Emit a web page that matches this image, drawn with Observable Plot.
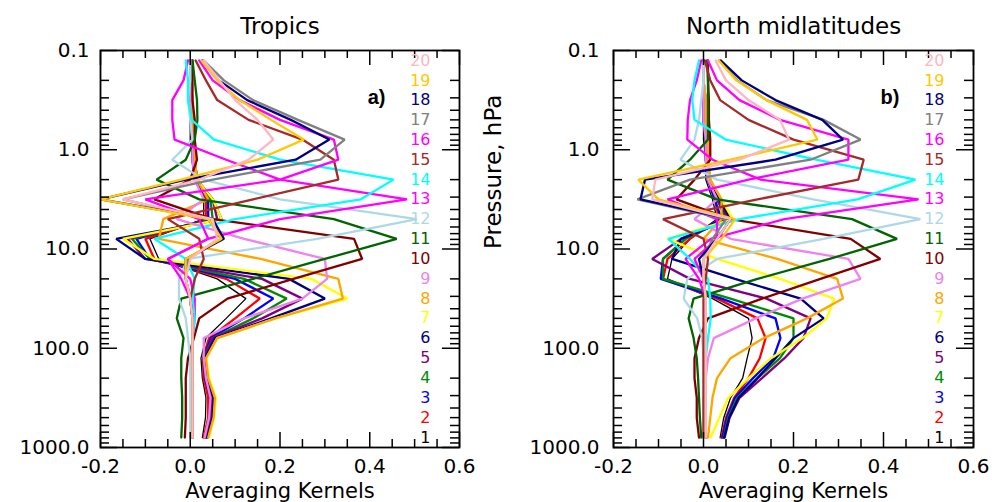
<!DOCTYPE html>
<html><head><meta charset="utf-8">
<script src="https://cdn.jsdelivr.net/npm/d3@7"></script>
<script src="https://cdn.jsdelivr.net/npm/@observablehq/plot@0.6"></script>
<style>
html,body{margin:0;padding:0;background:#fff;}
#chart{position:relative;width:992px;height:502px;overflow:hidden;background:#fff;}
#chart svg{position:absolute;top:0;}
</style></head><body><div id="chart"></div>
<script>
// Pressure levels (hPa), top -> bottom
const pressureLevels = [0.126,0.2,0.316,0.5,0.79,1.26,2.0,3.16,5.0,7.9,12.6,20,31.6,50,79,126,200,316,501,794];
const kernelNumbers = [1,2,3,4,5,6,7,8,9,10,11,12,13,14,15,16,17,18,19,20];
const kernelColors = ["#000000","#ff0000","#0000ff","#008b00","#800080","#000080","#ffff00","#ffa500","#ee82ee","#800000",
                      "#006400","#add8e6","#ff00ff","#00ffff","#a52a2a","#ff00ff","#808080","#000080","#ffc800","#ffb6c1"];

// Averaging kernels, Tropics: row = kernel 1..20, values at pressureLevels
const tropicsAK = [
 [0,0,0,0,0,0.005,0.01,0.03,0.03,-0.09,-0.07,0.06,0.124,0.08,0.035,0.024,0.027,0.035,0.034,0.027],
 [0,0,0,0,0.005,0.005,0.01,0.035,0.035,-0.1,-0.08,0.08,0.155,0.1,0.042,0.028,0.03,0.04,0.04,0.03],
 [0,0,0,0,0.005,0.005,0.01,0.04,0.04,-0.12,-0.09,0.1,0.185,0.12,0.046,0.03,0.033,0.045,0.043,0.033],
 [0,0,0,0.005,0.005,0.01,0.015,0.045,0.05,-0.13,-0.09,0.12,0.215,0.14,0.05,0.03,0.035,0.047,0.045,0.035],
 [0,0,0,0.005,0.005,0.01,0.015,0.05,0.06,-0.14,-0.1,0.16,0.25,0.16,0.05,0.032,0.036,0.05,0.047,0.036],
 [0,0,0.005,0.005,0.01,0.01,0.015,0.05,0.07,-0.165,-0.1,0.22,0.3,0.18,0.055,0.033,0.038,0.052,0.05,0.038],
 [0,0,0.005,0.005,0.01,0.01,0.015,0.05,0.07,-0.15,-0.08,0.27,0.35,0.19,0.06,0.036,0.042,0.057,0.053,0.042],
 [0,0,0.005,0.005,0.01,0.01,0.015,0.04,-0.06,-0.07,0.157,0.33,0.34,0.19,0.06,0.035,0.04,0.055,0.052,0.04],
 [0,0,0,0,0.005,0.005,0.01,0.03,-0.03,0.12,0.3,0.305,0.25,0.12,0.03,0.03,0.035,0.045,0.042,0.032],
 [0.005,0.005,0.005,0.01,0.01,0.015,0,-0.08,0.05,0.365,0.383,0.23,0.083,0.02,0.008,-0.005,-0.01,-0.01,-0.01,-0.012],
 [0.005,0.01,0.015,0.016,0.01,-0.01,-0.075,0.02,0.32,0.46,0.3,0.14,-0.02,-0.03,-0.015,-0.02,-0.02,-0.018,-0.018,-0.02],
 [0,0,-0.005,0,0.005,-0.04,0.03,0.2,0.505,0.283,-0.006,-0.025,-0.025,-0.01,-0.005,0,0,0,0,0],
 [-0.005,-0.015,-0.04,-0.04,-0.035,0.08,0.2,0.483,0.2,0.04,-0.05,0,0.01,0.01,0.005,0.005,0.005,0.005,0.005,0.005],
 [-0.01,-0.005,-0.005,0.003,0.053,0.2,0.453,0.38,0.1,-0.08,-0.01,0.01,0.005,0.01,0.005,0.005,0.005,0.005,0.005,0.005],
 [0.012,0.035,0.06,0.13,0.25,0.32,0.33,0.14,-0.05,0.02,0.03,0.01,0,0.005,0.005,0.005,0.005,0.005,0.005,0.005],
 [0.02,0.05,0.11,0.2,0.32,0.33,0.2,-0.1,0.02,0.04,-0.05,-0.02,0,0.005,0.005,0.005,0.005,0.005,0.005,0.005],
 [0.03,0.075,0.14,0.24,0.344,0.29,0.05,-0.15,0.04,0.07,-0.005,-0.01,0,0.005,0.005,0.005,0.005,0.005,0.005,0.005],
 [0.027,0.064,0.127,0.224,0.31,0.235,-0.01,-0.2,0.05,0.075,-0.01,-0.01,0,0.005,0.005,0.005,0.005,0.005,0.005,0.005],
 [0.025,0.06,0.11,0.18,0.253,0.15,-0.02,-0.2,0.04,0.07,-0.01,-0.01,0,0.005,0.005,0.005,0.005,0.005,0.005,0.005],
 [0.03,0.065,0.1,0.15,0.185,0.13,0.02,-0.15,0.05,0.06,0,-0.01,0,0.005,0.005,0.005,0.005,0.005,0.005,0.005]
];

// Averaging kernels, North midlatitudes
const northAK = [
 [0,0,0,0,0,0.005,0.005,0.02,0.03,-0.03,-0.07,-0.08,0.02,0.1,0.108,0.097,0.087,0.06,0.045,0.037],
 [0,0,0,0,0.005,0.005,0.01,0.025,0.035,-0.03,-0.08,-0.09,0.03,0.12,0.138,0.125,0.1,0.068,0.05,0.04],
 [0,0,0,0,0.005,0.005,0.01,0.025,0.04,-0.04,-0.09,-0.095,0.04,0.16,0.171,0.155,0.11,0.07,0.052,0.042],
 [0,0,0,0.005,0.005,0.01,0.01,0.03,0.05,-0.04,-0.09,-0.09,0.06,0.2,0.2,0.17,0.12,0.075,0.055,0.045],
 [0,0,0,0.005,0.005,0.01,0.01,0.03,0.055,-0.05,-0.114,-0.03,0.14,0.238,0.222,0.18,0.13,0.08,0.058,0.047],
 [0,0,0.005,0.005,0.01,0.01,0.015,0.035,0.06,-0.05,-0.07,0.07,0.216,0.267,0.2,0.16,0.12,0.078,0.057,0.046],
 [0,0,0.005,0.005,0.01,0.01,0.015,0.04,0.065,-0.08,0.03,0.17,0.29,0.274,0.22,0.15,0.1,0.055,0.035,0.016],
 [0,0,0.005,0.005,0.01,0.01,0.015,0.04,0.04,0,0.164,0.297,0.31,0.23,0.134,0.06,0.03,0.02,0.015,0.01],
 [0,0,0,0,0.005,0.005,0.01,0.03,-0.02,0.06,0.322,0.349,0.22,0.116,0.023,0.01,0.005,0,0,0],
 [0.01,0.01,0.012,0.012,0.015,0.015,-0.02,-0.06,0.06,0.327,0.393,0.26,0.13,0.01,-0.01,-0.02,-0.02,-0.015,-0.015,-0.01],
 [0.008,0.01,0.01,0.01,0.01,-0.03,-0.08,0.03,0.33,0.43,0.28,0.12,-0.022,-0.033,-0.022,-0.015,-0.012,-0.01,-0.008,-0.005],
 [0,0,-0.005,-0.01,-0.02,-0.051,0.03,0.244,0.482,0.267,0.03,-0.036,-0.044,-0.014,-0.003,0,0,0,0,0],
 [-0.005,-0.015,-0.03,-0.035,-0.036,0.02,0.127,0.478,0.18,0.016,-0.04,-0.01,0.005,0.005,0.005,0.005,0.005,0.005,0.005,0.005],
 [-0.01,-0.02,-0.025,-0.02,0.049,0.25,0.471,0.342,0.08,-0.078,-0.03,0.01,0.015,0.016,0.01,0.005,0.005,0.005,0.005,0.005],
 [0.003,0.015,0.037,0.1,0.2,0.356,0.344,0.12,-0.09,0,0.01,0.005,0,0,0,0,0,0,0,0],
 [0.01,0.03,0.08,0.17,0.322,0.322,0.1,-0.08,0.03,0.03,-0.02,0,0.005,0.005,0.005,0.005,0.005,0.005,0.005,0.005],
 [0.035,0.075,0.14,0.267,0.349,0.238,-0.03,-0.147,0.05,0.02,0,0,0.005,0.005,0.005,0.005,0.005,0.005,0.005,0.005],
 [0.038,0.085,0.16,0.264,0.31,0.16,-0.13,-0.14,0.06,0.03,-0.01,0,0.005,0.005,0.005,0.005,0.005,0.005,0.005,0.005],
 [0.034,0.073,0.14,0.23,0.253,0.06,-0.145,-0.1,0.07,0.04,0,0,0.005,0.005,0.005,0.005,0.005,0.005,0.005,0.005],
 [0.027,0.05,0.1,0.17,0.19,0.08,-0.107,-0.114,0.06,0.03,0,0,0.005,0.005,0.005,0.005,0.005,0.005,0.005,0.005]
];

const xMajorTicks = [-0.2,0.0,0.2,0.4,0.6];
const xMinorTicks = [-0.15,-0.1,-0.05,0.05,0.1,0.15,0.25,0.3,0.35,0.45,0.5,0.55];
const yMajorTicks = [0.1,1,10,100,1000];
const yMinorTicks = [0.2,0.3,0.4,0.5,0.6,0.7,0.8,0.9,2,3,4,5,6,7,8,9,20,30,40,50,60,70,80,90,200,300,400,500,600,700,800,900];
const panelTitles = ["Tropics","North midlatitudes"];
const panelTags = ["a)","b)"];
const xTitle = "Averaging Kernels";
const yTitle = "Pressure, hPa";

function panel({ak, title, tag, width, marginLeft, marginRight, showYTitle, yLabelPad}) {
  const H = 502, mt = 50, mb = 55;
  const plotW = width - marginLeft - marginRight, plotH = H - mt - mb;
  const rows = [];
  ak.forEach((vals, k) => vals.forEach((v, i) => rows.push({k: k + 1, p: pressureLevels[i], v})));
  const marks = [];
  for (const k of kernelNumbers) {
    marks.push(Plot.line(rows.filter(d => d.k === k), {x: "v", y: "p", stroke: kernelColors[k - 1], strokeWidth: k === 1 ? 1.3 : 2.3, strokeLinejoin: "miter"}));
  }
  const tw = 1.5;
  marks.push(
    Plot.tickX(xMajorTicks, {x: d => d, insetBottom: plotH - 15, strokeWidth: tw}),
    Plot.tickX(xMinorTicks, {x: d => d, insetBottom: plotH - 8, strokeWidth: tw}),
    Plot.tickX(xMajorTicks, {x: d => d, insetTop: plotH - 15, strokeWidth: tw}),
    Plot.tickX(xMinorTicks, {x: d => d, insetTop: plotH - 8, strokeWidth: tw}),
    Plot.tickY(yMajorTicks, {y: d => d, insetRight: plotW - 17, strokeWidth: tw}),
    Plot.tickY(yMinorTicks, {y: d => d, insetRight: plotW - 9, strokeWidth: tw}),
    Plot.tickY(yMajorTicks, {y: d => d, insetLeft: plotW - 17, strokeWidth: tw}),
    Plot.tickY(yMinorTicks, {y: d => d, insetLeft: plotW - 9, strokeWidth: tw}),
    Plot.frame({strokeWidth: 1.8}),
    Plot.text(xMajorTicks, {x: d => d, frameAnchor: "bottom", lineAnchor: "middle", dy: 19, text: d => d.toFixed(1), fontSize: 20}),
    Plot.text(yMajorTicks, {y: d => d, frameAnchor: "left", lineAnchor: "middle", dx: -yLabelPad, textAnchor: "end", text: d => d.toFixed(1), fontSize: 20}),
    Plot.text(kernelNumbers, {y: k => pressureLevels[20 - k], frameAnchor: "right", lineAnchor: "middle", dx: -29, text: k => String(k), fill: k => kernelColors[k - 1], fontSize: 16}),
    Plot.text([tag], {frameAnchor: "top-right", lineAnchor: "middle", dx: -74, dy: 47, fontWeight: "bold", fontSize: 20, textAnchor: "end", fontFamily: "Liberation Sans"}),
    Plot.text([title], {frameAnchor: "top", lineAnchor: "middle", dy: -24, fontSize: 23}),
    Plot.text([xTitle], {frameAnchor: "bottom", lineAnchor: "middle", dy: 44, fontSize: 21})
  );
  if (showYTitle) marks.push(Plot.text([yTitle], {frameAnchor: "left", lineAnchor: "middle", dx: -120, rotate: -90, fontSize: 23}));
  return Plot.plot({
    width, height: H, marginTop: mt, marginBottom: mb, marginLeft, marginRight,
    x: {domain: [-0.2, 0.6], axis: null},
    y: {type: "log", domain: [0.1, 1000], reverse: true, axis: null},
    color: {type: "identity"},
    style: {fontFamily: "'DejaVu Sans', sans-serif", fontSize: "23px", background: "white", color: "black", overflow: "visible"},
    marks
  });
}

const chart = document.getElementById("chart");
const left = panel({ak: tropicsAK, title: panelTitles[0], tag: panelTags[0], width: 480, marginLeft: 100, marginRight: 21, showYTitle: false, yLabelPad: 11});
left.style.left = "0px";
const right = panel({ak: northAK, title: panelTitles[1], tag: panelTags[1], width: 512, marginLeft: 133, marginRight: 19, showYTitle: true, yLabelPad: 14});
right.style.left = "480px";
chart.appendChild(left);
chart.appendChild(right);
</script></body></html>
